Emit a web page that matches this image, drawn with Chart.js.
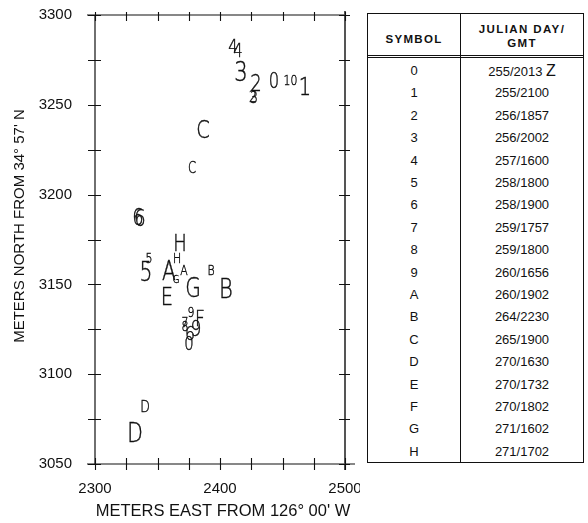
<!DOCTYPE html>
<html>
<head>
<meta charset="utf-8">
<script src="https://cdn.jsdelivr.net/npm/chart.js@4/dist/chart.umd.min.js"></script>
<style>
  html, body { margin: 0; padding: 0; background: #fff; }
  #wrap { position: relative; width: 588px; height: 523px; overflow: hidden; }
  #plot { position: absolute; left: 0; top: 0; }
  #legend {
    position: absolute; left: 367px; top: 13px; width: 217px; height: 450px;
    border: 1.5px solid #111; box-sizing: border-box;
    font-family: "Liberation Sans", Arial, sans-serif; color: #111;
  }
  #legend .hdr { position: absolute; left: 0; top: 0; width: 100%; height: 44px;
    border-bottom: 3px double #111; box-sizing: border-box; }
  #legend .divider { position: absolute; left: 92px; top: 0; bottom: 0; border-left: 1.5px solid #111; }
  #legend .h1 { position: absolute; left: 0; width: 92px; top: 19px; text-align: center;
    font-weight: bold; font-size: 11.5px; letter-spacing: 1.3px; }
  #legend .h2 { position: absolute; left: 93px; right: 0; top: 8px; text-align: center;
    font-weight: bold; font-size: 11.5px; letter-spacing: 1.4px; line-height: 14px; }
  #legend .row { position: absolute; left: 0; width: 100%; height: 22.4px; line-height: 22.4px; font-size: 13px; }
  #legend .row .s { position: absolute; left: 0; width: 92px; text-align: center; }
  #legend .row .d { position: absolute; left: 93px; right: 0; text-align: center; }
</style>
</head>
<body>
<div id="wrap">
  <canvas id="plot" width="360" height="523"></canvas>
  <div id="legend">
    <div class="hdr"></div>
    <div class="divider"></div>
    <div class="h1">SYMBOL</div>
    <div class="h2">JULIAN DAY/<br>GMT</div>
  </div>
</div>
<script>
// Track positions: plotted symbol, metres east and metres north
const symbols = ['4','4','3','2','2','3','0','1','0','1',
                 'C','C','6','6','H','5','5','A','H','A',
                 'G','B','G','B','E','9','F','7','8','9',
                 '6','0','D','D'];
const eastM  = [2410.4, 2414.4, 2416.8, 2428.8, 2426.4, 2427.2, 2443.2, 2453.6, 2459.2, 2468.0,
                2386.4, 2377.6, 2334.4, 2336.0, 2368.0, 2343.2, 2340.8, 2359.2, 2365.6, 2371.2,
                2364.8, 2392.8, 2378.4, 2404.8, 2357.6, 2376.8, 2384.0, 2372.0, 2372.0, 2380.8,
                2376.0, 2375.2, 2340.0, 2332.0];
const northM = [3282.7, 3280.5, 3268.8, 3262.1, 3254.9, 3254.3, 3263.8, 3263.8, 3263.8, 3260.5,
                3236.5, 3214.8, 3187.5, 3187.0, 3173.0, 3164.7, 3156.9, 3158.0, 3164.7, 3158.0,
                3153.0, 3158.0, 3148.0, 3148.0, 3143.5, 3134.6, 3131.3, 3129.1, 3126.8, 3125.7,
                3122.9, 3117.4, 3082.3, 3067.8];

// Glyph size (px) used for each plotted symbol
const glyphPx = [19, 19, 27, 23, 16, 16, 21, 14, 14, 25,
                 25, 15, 23, 23, 23, 14, 26, 26, 14, 14,
                 11, 14, 26, 27, 25, 14, 22, 14, 14, 22,
                 20, 19, 16, 26];

// Legend table
const legendSymbols = ['0','1','2','3','4','5','6','7','8','9','A','B','C','D','E','F','G','H'];
const legendTimes = ['255/2013 Z','255/2100','256/1857','256/2002','257/1600','258/1800',
                     '258/1900','259/1757','259/1800','260/1656','260/1902','264/2230',
                     '265/1900','270/1630','270/1732','270/1802','271/1602','271/1702'];

// Axis ranges and labels
const xMin = 2300, xMax = 2500, xStep = 25, xLabelEvery = 100;
const yMin = 3050, yMax = 3300, yStep = 25, yLabelEvery = 50;
const xTitle = "METERS EAST FROM 126° 00' W";
const yTitle = "METERS NORTH FROM 34° 57' N";

const legend = document.getElementById('legend');
legendSymbols.forEach((s, i) => {
  const r = document.createElement('div');
  r.className = 'row';
  r.style.top = (46 + i * 22.4) + 'px';
  const t = legendTimes[i];
  let html = t;
  if (t.endsWith(' Z')) html = t.slice(0, -2) + ' <span style="font-size:16px">Z</span>';
  r.innerHTML = '<span class="s">' + s + '</span><span class="d">' + html + '</span>';
  legend.appendChild(r);
});

const labelFont = '"Liberation Sans", Arial, sans-serif';

// Frame with crossing tick marks on all four sides, plus axis titles
const framePlugin = {
  id: 'frame',
  afterDraw(chart) {
    const { ctx, chartArea: a, scales } = chart;
    const xs = scales.x, ys = scales.y;
    ctx.save();
    ctx.strokeStyle = '#111';
    ctx.lineWidth = 1.2;
    ctx.beginPath();
    ctx.moveTo(a.left - 8, a.top); ctx.lineTo(a.right, a.top);
    ctx.moveTo(a.left, a.top); ctx.lineTo(a.left, a.bottom);
    ctx.moveTo(a.left - 8, a.bottom); ctx.lineTo(a.right + 10, a.bottom);
    ctx.stroke();
    ctx.strokeStyle = '#555';
    ctx.lineWidth = 2;
    ctx.beginPath();
    ctx.moveTo(a.right, a.top - 4); ctx.lineTo(a.right, a.bottom + 6);
    ctx.stroke();
    ctx.strokeStyle = '#111';
    ctx.lineWidth = 1.1;
    ctx.beginPath();
    xs.ticks.forEach(t => {
      const px = Math.round(xs.getPixelForValue(t.value)) + 0.5;
      ctx.moveTo(px, a.bottom - 6); ctx.lineTo(px, a.bottom + 6);
      ctx.moveTo(px, a.top - 3); ctx.lineTo(px, a.top + 6);
    });
    ys.ticks.forEach(t => {
      const py = Math.round(ys.getPixelForValue(t.value)) + 0.5;
      ctx.moveTo(a.left - 7, py); ctx.lineTo(a.left + 6, py);
      ctx.moveTo(a.right - 6, py); ctx.lineTo(a.right + 5, py);
    });
    ctx.stroke();

    ctx.fillStyle = '#111';
    ctx.textAlign = 'center';
    ctx.textBaseline = 'middle';
    ctx.font = '16.5px ' + labelFont;
    ctx.fillText(xTitle, (a.left + a.right) / 2 + 3, 511);
    ctx.font = '15px ' + labelFont;
    ctx.translate(20, 226);
    ctx.rotate(-Math.PI / 2);
    ctx.fillText(yTitle, 0, 0);
    ctx.restore();
  }
};

// Symbols drawn as plotter-style characters at each data point
const glyphPlugin = {
  id: 'glyphs',
  afterDatasetsDraw(chart) {
    const { ctx } = chart;
    const meta = chart.getDatasetMeta(0);
    ctx.save();
    ctx.fillStyle = '#111';
    ctx.strokeStyle = '#111';
    ctx.lineWidth = 0.45;
    ctx.textAlign = 'center';
    ctx.textBaseline = 'alphabetic';
    meta.data.forEach((pt, i) => {
      const size = glyphPx[i];
      ctx.save();
      ctx.translate(pt.x, pt.y + size * 0.365);
      ctx.scale(0.78, 1);
      ctx.font = '200 ' + size + 'px "DejaVu Sans", sans-serif';
      ctx.fillText(symbols[i], 0, 0);
      ctx.strokeText(symbols[i], 0, 0);
      ctx.restore();
    });
    ctx.restore();
  }
};

new Chart(document.getElementById('plot'), {
  type: 'scatter',
  data: {
    datasets: [{
      data: eastM.map((x, i) => ({ x: x, y: northM[i] })),
      pointRadius: 0,
      pointHoverRadius: 0,
      showLine: false
    }]
  },
  options: {
    responsive: false,
    animation: false,
    events: [],
    layout: { padding: { top: 15, right: 15, left: 0, bottom: 0 }, autoPadding: false },
    plugins: { legend: { display: false }, tooltip: { enabled: false } },
    scales: {
      x: {
        type: 'linear', min: xMin, max: xMax,
        grid: { display: false },
        border: { display: false },
        afterFit(s) { s.height = 59; s.paddingLeft = 0; s.paddingRight = 0; },
        ticks: {
          stepSize: xStep, autoSkip: false, maxRotation: 0, padding: 8,
          color: '#111', font: { family: labelFont, size: 15 },
          callback: v => (v % xLabelEvery === 0 ? String(v) : '')
        }
      },
      y: {
        type: 'linear', min: yMin, max: yMax,
        grid: { display: false },
        border: { display: false },
        afterFit(s) { s.width = 95; s.paddingTop = 0; s.paddingBottom = 0; },
        ticks: {
          stepSize: yStep, autoSkip: false, padding: 15,
          color: '#111', font: { family: labelFont, size: 15 },
          callback: v => (v % yLabelEvery === 0 ? String(v) : '')
        }
      }
    }
  },
  plugins: [framePlugin, glyphPlugin]
});
</script>
</body>
</html>
